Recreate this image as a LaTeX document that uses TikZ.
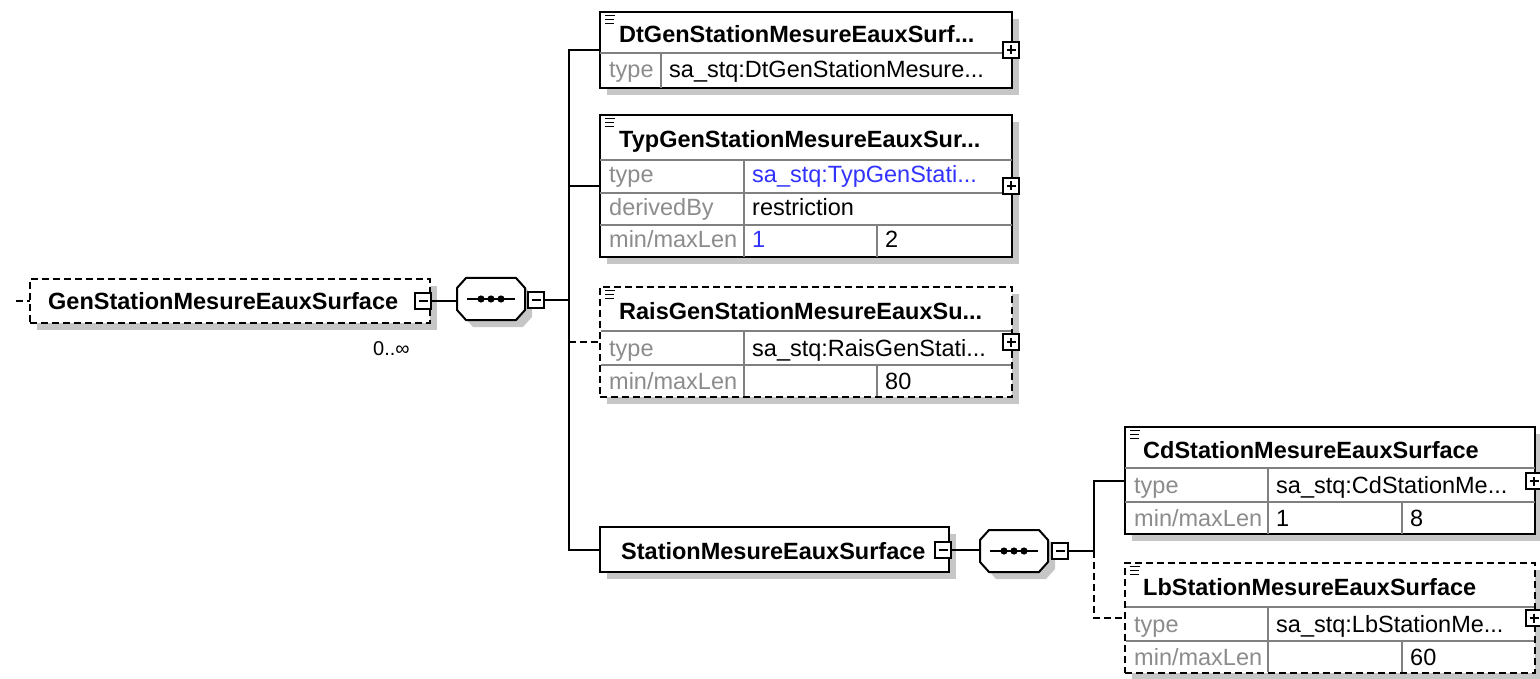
\documentclass[tikz,border=0pt]{standalone}
\usepackage{fontspec}
\setmainfont{Liberation Sans}
\usetikzlibrary{shadows,calc}
\definecolor{shadowgrey}{RGB}{198,198,198}
\definecolor{labelgrey}{RGB}{140,140,140}
\definecolor{gridgrey}{RGB}{128,128,128}
\definecolor{linkblue}{RGB}{50,50,255}
\newcommand\docmark[1]{\draw[line width=1.7pt] (#1) ++(5,3.5) -- ++(10,0) ++(-10,4) -- ++(9,0) ++(-9,4) -- ++(9,0);}
\begin{document}
\begin{tikzpicture}[x=1pt,y=-1pt,
  shadowed/.style={general shadow={fill=shadowgrey, shadow xshift=7pt, shadow yshift=-7pt}},
  box/.style={draw=black, line width=2pt, fill=white, inner sep=0pt, outer sep=0pt, anchor=north west, shadowed},
  optbox/.style={box, dash pattern=on 7pt off 4pt},
  conn/.style={draw=black, line width=2pt},
  optconn/.style={conn, dash pattern=on 7pt off 4pt},
  gridline/.style={draw=gridgrey, line width=1.5pt},
  comp/.style={draw=black, line width=2pt, fill=white, shadowed},
  frame/.style={inner sep=0pt, outer sep=0pt},
  titletxt/.style={anchor=base west, inner sep=0pt, font=\fontsize{23.5}{28}\selectfont\bfseries},
  lbl/.style={anchor=base west, inner sep=0pt, font=\fontsize{23.5}{28}\selectfont, text=labelgrey},
  val/.style={anchor=base west, inner sep=0pt, font=\fontsize{23.5}{28}\selectfont, text=black},
  icon/.style={draw=black, fill=white, line width=1.8pt, minimum size=16pt, inner sep=0pt, outer sep=0pt},
  minusicon/.style={icon, path picture={\draw[line width=1.8pt] ([xshift=3.5pt]path picture bounding box.west) -- ([xshift=-3.5pt]path picture bounding box.east);}},
  plusicon/.style={icon, path picture={\draw[line width=1.8pt] ([xshift=3.5pt]path picture bounding box.west) -- ([xshift=-3.5pt]path picture bounding box.east); \draw[line width=1.8pt] ([yshift=-3.5pt]path picture bounding box.north) -- ([yshift=3.5pt]path picture bounding box.south);}}
]
\useasboundingbox (0,0) rectangle (1540,679);

% ---------- root element ----------
\coordinate (stub) at (16,301);
\node[optbox, minimum width=400pt, minimum height=44pt] (gen) at (30,279) {};
\node[titletxt] (gentxt) at (48,309) {GenStationMesureEauxSurface};
\node[minusicon] (genicon) at (423,301) {};
\node[anchor=base west, inner sep=0pt, font=\fontsize{20}{24}\selectfont] (genocc) at (373,355) {0..∞};
\draw[optconn] (stub) -- (gen.west);

% ---------- sequence 1 ----------
\node[frame, minimum width=68pt, minimum height=42pt] (seq1) at (491,299) {};
\path[comp] ([xshift=9pt]seq1.north west) -- ([xshift=-9pt]seq1.north east) -- ([yshift=-10pt]seq1.north east) -- ([yshift=10pt]seq1.south east) -- ([xshift=-9pt]seq1.south east) -- ([xshift=9pt]seq1.south west) -- ([yshift=10pt]seq1.south west) -- ([yshift=-10pt]seq1.north west) -- cycle;
\draw[line width=2pt] ([xshift=-24pt]seq1.center) -- ([xshift=24pt]seq1.center);
\foreach \dx in {-10,0,10} \fill ([xshift=\dx pt]seq1.center) circle (3.6pt);
\node[minusicon] (seq1icon) at (536,300) {};
\draw[conn] (genicon.east) -- (genicon.east -| seq1.west);
\coordinate (j1) at (569,300);
\draw[conn] (seq1icon.east) -- (j1);

% ---------- DtGen ----------
\node[box, minimum width=412pt, minimum height=76pt] (dt) at (600,12) {};
\draw[gridline] (600,53) -- (1012,53);
\draw[gridline] (661,53) -- (661,88);
\docmark{600,12}
\node[titletxt] (dtt) at (619,43) {DtGenStationMesureEauxSurf...};
\node[lbl] (dtl1) at (609,78) {type};
\node[val] (dtv1) at (669,78) {sa\_stq:DtGenStationMesure...};
\node[plusicon] (dticon) at (1011,50) {};

% ---------- TypGen ----------
\node[box, minimum width=412pt, minimum height=142pt] (typ) at (600,115) {};
\draw[gridline] (600,160) -- (1012,160);
\draw[gridline] (600,193) -- (1012,193);
\draw[gridline] (600,225) -- (1012,225);
\draw[gridline] (744,160) -- (744,257);
\draw[gridline] (877,225) -- (877,257);
\docmark{600,115}
\node[titletxt] (typt) at (619,148) {TypGenStationMesureEauxSur...};
\node[lbl] (typl1) at (609,183) {type};
\node[val, text=linkblue] (typv1) at (752,183) {sa\_stq:TypGenStati...};
\node[lbl] (typl2) at (609,216) {derivedBy};
\node[val] (typv2) at (752,216) {restriction};
\node[lbl] (typl3) at (609,248) {min/maxLen};
\node[val, text=linkblue] (typv3) at (752,248) {1};
\node[val] (typv4) at (885,248) {2};
\node[plusicon] (typicon) at (1011,186) {};

% ---------- RaisGen ----------
\node[optbox, minimum width=412pt, minimum height=110pt] (rais) at (600,287) {};
\draw[gridline] (601,331) -- (1011,331);
\draw[gridline] (601,365) -- (1011,365);
\draw[gridline] (744,331) -- (744,396);
\draw[gridline] (877,365) -- (877,396);
\docmark{600,287}
\node[titletxt] (raist) at (619,319) {RaisGenStationMesureEauxSu...};
\node[lbl] (raisl1) at (609,356) {type};
\node[val] (raisv1) at (752,356) {sa\_stq:RaisGenStati...};
\node[lbl] (raisl2) at (609,389) {min/maxLen};
\node[val] (raisv2) at (885,389) {80};
\node[plusicon] (raisicon) at (1011,342) {};

% ---------- StationMesureEauxSurface ----------
\node[box, minimum width=349pt, minimum height=45pt] (st) at (600,527) {};
\node[titletxt] (stt) at (621,559) {StationMesureEauxSurface};
\node[minusicon] (sticon) at (943,550) {};

% trunk 1 connectors
\draw[conn] (j1) |- (dt.west);
\draw[conn] (j1) |- (typ.west);
\draw[conn] (j1) |- (st.west);
\draw[optconn] (j1 |- rais.west) -- (rais.west);

% ---------- sequence 2 ----------
\node[frame, minimum width=68pt, minimum height=42pt] (seq2) at (1014,551) {};
\path[comp] ([xshift=9pt]seq2.north west) -- ([xshift=-9pt]seq2.north east) -- ([yshift=-10pt]seq2.north east) -- ([yshift=10pt]seq2.south east) -- ([xshift=-9pt]seq2.south east) -- ([xshift=9pt]seq2.south west) -- ([yshift=10pt]seq2.south west) -- ([yshift=-10pt]seq2.north west) -- cycle;
\draw[line width=2pt] ([xshift=-24pt]seq2.center) -- ([xshift=24pt]seq2.center);
\foreach \dx in {-10,0,10} \fill ([xshift=\dx pt]seq2.center) circle (3.6pt);
\node[minusicon] (seq2icon) at (1060,551) {};
\draw[conn] (sticon.east) -- (sticon.east -| seq2.west);
\coordinate (j2) at (1094,551);
\draw[conn] (seq2icon.east) -- (j2);

% ---------- CdStation ----------
\node[box, minimum width=410pt, minimum height=107pt] (cd) at (1125,427) {};
\draw[gridline] (1125,468) -- (1535,468);
\draw[gridline] (1125,502) -- (1535,502);
\draw[gridline] (1268,468) -- (1268,534);
\draw[gridline] (1402,502) -- (1402,534);
\docmark{1125,427}
\node[titletxt] (cdt) at (1143,458) {CdStationMesureEauxSurface};
\node[lbl] (cdl1) at (1134,493) {type};
\node[val] (cdv1) at (1276,493) {sa\_stq:CdStationMe...};
\node[lbl] (cdl2) at (1134,526) {min/maxLen};
\node[val] (cdv2) at (1276,526) {1};
\node[val] (cdv3) at (1410,526) {8};
\node[plusicon] (cdicon) at (1534,481) {};

% ---------- LbStation ----------
\node[optbox, minimum width=410pt, minimum height=110pt] (lb) at (1125,563) {};
\draw[gridline] (1126,607) -- (1534,607);
\draw[gridline] (1126,641) -- (1534,641);
\draw[gridline] (1268,607) -- (1268,672);
\draw[gridline] (1402,641) -- (1402,672);
\docmark{1125,563}
\node[titletxt] (lbt) at (1143,595) {LbStationMesureEauxSurface};
\node[lbl] (lbl1) at (1134,632) {type};
\node[val] (lbv1) at (1276,632) {sa\_stq:LbStationMe...};
\node[lbl] (lbl2) at (1134,665) {min/maxLen};
\node[val] (lbv2) at (1410,665) {60};
\node[plusicon] (lbicon) at (1534,618) {};

% trunk 2 connectors
\draw[conn] (j2) |- (cd.west);
\draw[optconn] (j2) |- (lb.west);
\end{tikzpicture}
\end{document}
